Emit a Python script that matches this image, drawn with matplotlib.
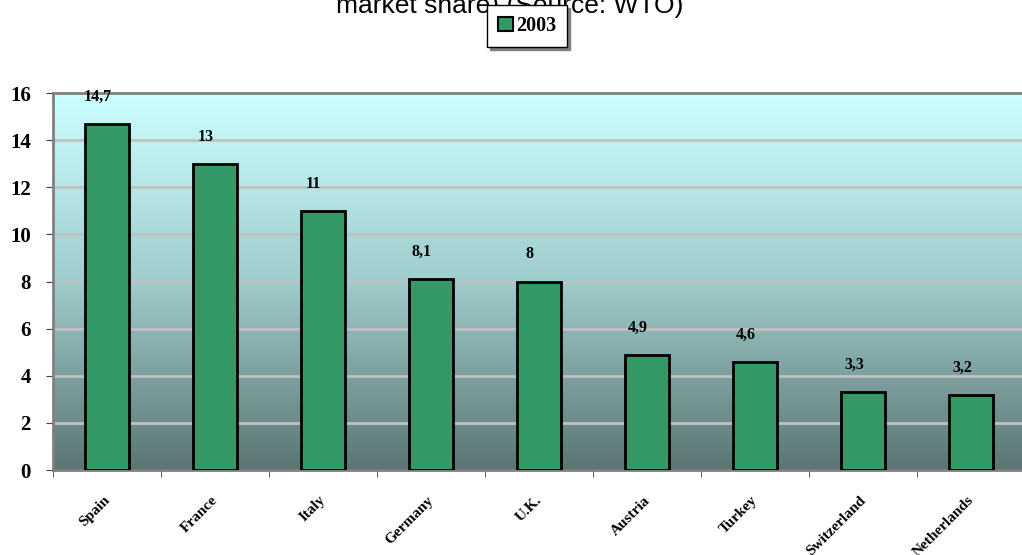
import matplotlib.pyplot as plt
import numpy as np
from matplotlib.colors import LinearSegmentedColormap
from matplotlib.patches import Patch

countries = ["Spain", "France", "Italy", "Germany", "U.K.", "Austria", "Turkey", "Switzerland", "Netherlands"]
share_2003 = [14.7, 13, 11, 8.1, 8, 4.9, 4.6, 3.3, 3.2]
value_labels = ["14,7", "13", "11", "8,1", "8", "4,9", "4,6", "3,3", "3,2"]
y_ticks = [0, 2, 4, 6, 8, 10, 12, 14, 16]

serif = ["Liberation Serif", "DejaVu Serif"]
W, H = 1022, 555
fig = plt.figure(figsize=(W / 100, H / 100), dpi=100)
ax = fig.add_axes([53 / W, 1 - 470 / H, (1025 - 53) / W, (470 - 93) / H])

x = np.arange(len(countries))
ax.set_xlim(-0.5, len(countries) - 0.5)
ax.set_ylim(0, 16)

# gradient background
cmap = LinearSegmentedColormap.from_list("bg", ["#5b7573", "#9fcccc", "#ccffff"])
grad = np.linspace(0, 1, 256).reshape(-1, 1)
ax.imshow(grad, aspect="auto", cmap=cmap, origin="lower",
          extent=[-0.5, len(countries) - 0.5, 0, 16], zorder=0)

for yv in y_ticks[1:-1]:
    ax.axhline(yv, color="#c0c0c0", lw=2, zorder=1)

ax.bar(x, share_2003, width=0.4, color="#339966", edgecolor="black", lw=2, zorder=3)

for xi, v, lab in zip(x, share_2003, value_labels):
    ax.annotate(lab, (xi - 0.085, v), xytext=(0, 19.5), textcoords="offset points",
                ha="center", va="center", fontsize=11.5, fontweight="bold", family=serif)

ax.set_yticks(y_ticks)
ax.set_yticklabels([str(t) for t in y_ticks], fontsize=15, fontweight="bold", family=serif)
ax.set_xticks(x - 0.035)
ax.set_xticklabels(countries, rotation=45, ha="right", rotation_mode="anchor",
                   fontsize=11, fontweight="bold", family=serif)
ax.tick_params(axis="x", length=0, pad=17)
ax.set_xticks(np.arange(-0.5, len(countries), 1), minor=True)
ax.tick_params(axis="x", which="minor", length=5, color="#404040")
ax.tick_params(axis="y", length=5, color="#404040", pad=11)

for side in ["left", "bottom", "top"]:
    ax.spines[side].set_color("#808080")
    ax.spines[side].set_linewidth(2)
ax.spines["right"].set_visible(False)

fig.text(510 / W, 1 - 13 / H, "market share) (Source: WTO)", ha="center", va="baseline",
         fontsize=19, family=["Liberation Sans", "DejaVu Sans"])

handle = Patch(facecolor="#339966", edgecolor="black", lw=1.5)
leg = fig.legend([handle], ["2003"], loc="center", bbox_to_anchor=(527 / W, 1 - 26 / H),
                 frameon=True, fancybox=False, shadow={"color": "#808080", "alpha": 1},
                 handlelength=0.75, handleheight=0.75,
                 handletextpad=0.15, borderpad=0.55, borderaxespad=0,
                 prop={"family": serif, "weight": "bold", "size": 14.5})
leg.get_frame().set_edgecolor("black")
leg.get_frame().set_linewidth(1)

fig.savefig("out.png", dpi=100)
